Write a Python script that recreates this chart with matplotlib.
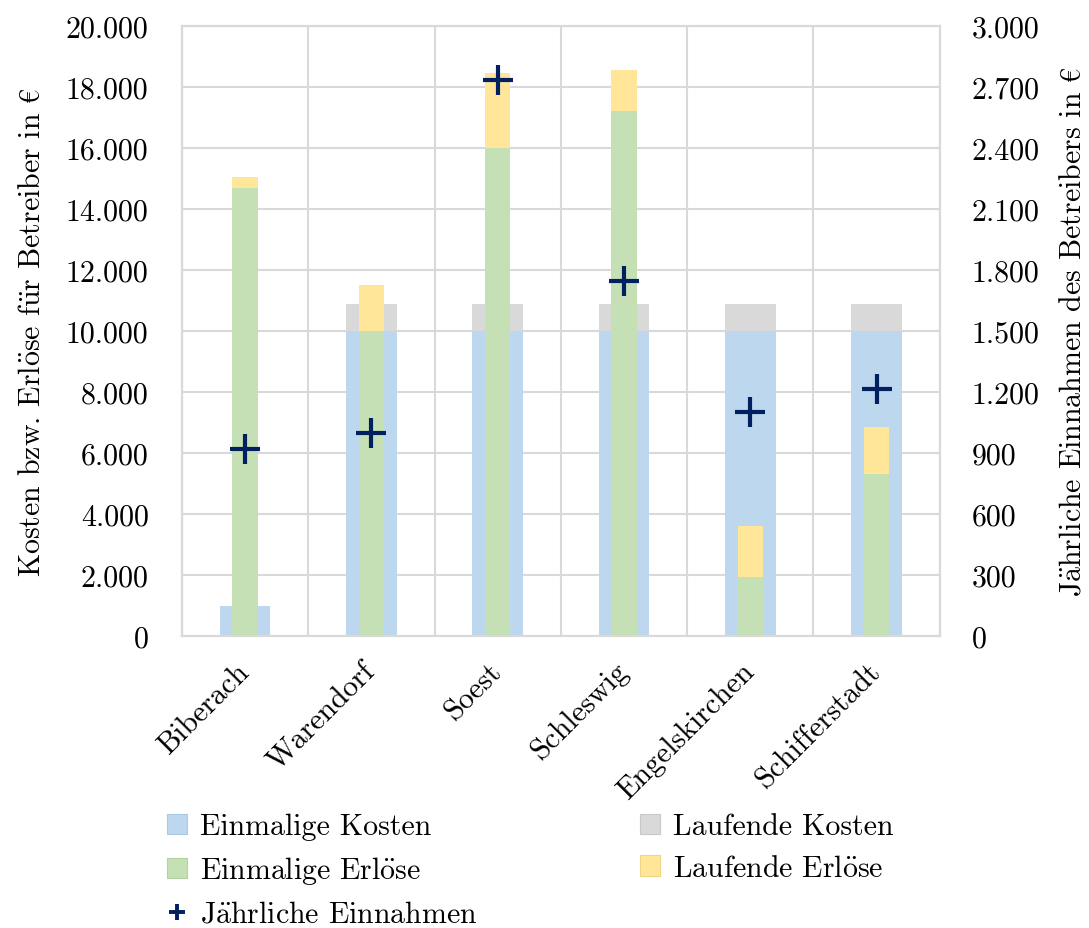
import matplotlib
matplotlib.use("Agg")
import matplotlib.pyplot as plt
from matplotlib.ticker import FuncFormatter, MultipleLocator
from matplotlib.patches import Patch
from matplotlib.lines import Line2D
import numpy as np

plt.rcParams['font.family'] = ['cmr10', 'DejaVu Serif']
plt.rcParams['mathtext.fontset'] = 'cm'
plt.rcParams['axes.unicode_minus'] = False

categories = ["Biberach", "Warendorf", "Soest", "Schleswig", "Engelskirchen", "Schifferstadt"]
einmalige_kosten = [1000, 10000, 10000, 10000, 10000, 10000]
laufende_kosten = [0, 900, 900, 900, 900, 900]
einmalige_erloese = [14700, 10000, 16000, 17200, 1950, 5300]
laufende_erloese = [350, 1500, 2450, 1350, 1650, 1550]
jaehrliche_einnahmen = [920, 1000, 2735, 1745, 1100, 1215]

c_blue = "#BDD7EE"
c_grey = "#D9D9D9"
c_green = "#C5E0B4"
c_yellow = "#FFE699"
c_navy = "#002060"

FS = 21.5

fig = plt.figure(figsize=(10.89, 9.29), dpi=100)
ax = fig.add_axes([0.167, 0.3143, 0.696, 0.6567])
ax2 = ax.twinx()

x = np.arange(len(categories))
ax.bar(x, einmalige_kosten, width=0.40, color=c_blue, zorder=2)
ax.bar(x, laufende_kosten, width=0.40, bottom=einmalige_kosten, color=c_grey, zorder=2)
ax.bar(x, einmalige_erloese, width=0.20, color=c_green, zorder=3)
ax.bar(x, laufende_erloese, width=0.20, bottom=einmalige_erloese, color=c_yellow, zorder=3)

ax2.plot(x, jaehrliche_einnahmen, linestyle='none', marker='+', markersize=21,
         markeredgewidth=3.0, color=c_navy, zorder=5)

ax.set_xlim(-0.5, len(categories) - 0.5)
ax.set_ylim(0, 20000)
ax2.set_ylim(0, 3000)
ax.yaxis.set_major_locator(MultipleLocator(2000))
ax2.yaxis.set_major_locator(MultipleLocator(300))

def thousands(v, pos):
    return f"{int(round(v)):,}".replace(",", ".")

ax.yaxis.set_major_formatter(FuncFormatter(thousands))
ax2.yaxis.set_major_formatter(FuncFormatter(thousands))

ax.set_xticks(x)
ax.set_xticklabels(categories, rotation=45, ha='right', va='center',
                   rotation_mode='anchor', fontsize=FS)
ax.set_xticks(np.arange(-0.5, len(categories)), minor=True)
ax.grid(True, which='major', axis='y', color='#D9D9D9', linewidth=1.5, zorder=0)
ax.grid(True, which='minor', axis='x', color='#D9D9D9', linewidth=1.5, zorder=0)
ax.set_axisbelow(True)

for a in (ax, ax2):
    a.tick_params(which='both', length=0, labelsize=FS)
    for s in a.spines.values():
        s.set_color('#D9D9D9')
        s.set_linewidth(1.5)
ax.tick_params(axis='y', pad=24)
ax2.tick_params(axis='y', pad=23)
ax.tick_params(axis='x', pad=22)

ax.set_ylabel("Kosten bzw. Erl$\\ddot{\\mathrm{o}}$se f$\\ddot{\\mathrm{u}}$r Betreiber in $\\mathrm{€}$",
              fontsize=FS, labelpad=14)
ax2.set_ylabel("J$\\ddot{\\mathrm{a}}$hrliche Einnahmen des Betreibers in $\\mathrm{€}$",
               fontsize=FS, labelpad=14)

handles = [
    Patch(facecolor=c_blue, edgecolor="#A9C8E4", linewidth=0.8, label="Einmalige Kosten"),
    Patch(facecolor=c_green, edgecolor="#B3D4A0", linewidth=0.8, label="Einmalige Erl$\\ddot{\\mathrm{o}}$se"),
    Line2D([], [], linestyle='none', marker='+', markersize=11, markeredgewidth=2.8,
           color=c_navy, label="J$\\ddot{\\mathrm{a}}$hrliche Einnahmen"),
    Patch(facecolor=c_grey, edgecolor="#C8C8C8", linewidth=0.8, label="Laufende Kosten"),
    Patch(facecolor=c_yellow, edgecolor="#F0D480", linewidth=0.8, label="Laufende Erl$\\ddot{\\mathrm{o}}$se"),
]
fig.legend(handles=handles, ncol=2, loc='upper left',
           bbox_to_anchor=(167 / 1089, (929 - 814) / 929),
           frameon=False, fontsize=FS, handlelength=0.68, handleheight=0.68,
           handletextpad=0.42, columnspacing=5.45, labelspacing=0.47, borderpad=0,
           borderaxespad=0)

fig.savefig("out.png", dpi=100)
